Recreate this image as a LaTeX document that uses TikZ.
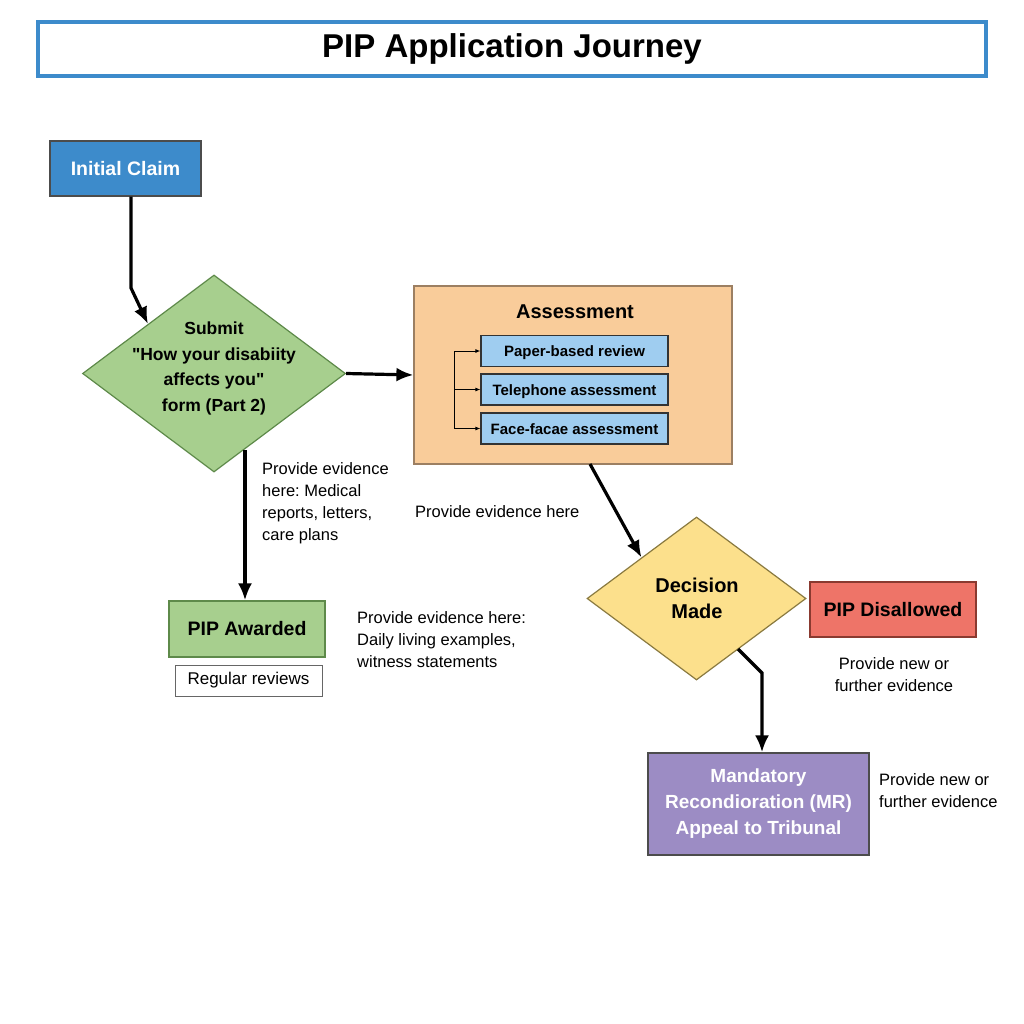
\documentclass[tikz,border=0pt]{standalone}
\usepackage{fontspec}
\setmainfont{Liberation Sans}
\newfontfamily\qfam{Liberation Sans}
\usetikzlibrary{shapes.geometric,arrows.meta,calc}
\definecolor{cblue}{HTML}{3D8BCB}
\definecolor{cgreen}{HTML}{A7CF8E}
\definecolor{cgreenb}{HTML}{5E8A4A}
\definecolor{corange}{HTML}{F9CC9A}
\definecolor{corangeb}{HTML}{9C7F62}
\definecolor{clblue}{HTML}{9FCDF0}
\definecolor{cyellow}{HTML}{FCE08C}
\definecolor{cyellowb}{HTML}{8A7A40}
\definecolor{cred}{HTML}{EE7468}
\definecolor{credb}{HTML}{8A3A30}
\definecolor{cpurple}{HTML}{9C8CC4}
\newcommand{\sq}{{\qfam"}}
\begin{document}
\frenchspacing
\begin{tikzpicture}[x=1pt,y=-1pt,
  box/.style={draw, rectangle, inner sep=0pt, align=center, line width=1.2pt},
  bigbold/.style={font=\bfseries\fontsize{19.5}{26}\selectfont},
  subbox/.style={box, fill=clblue, draw=black!80, minimum width=187, minimum height=31,
     text height=11, text depth=0, font=\bfseries\fontsize{15}{18}\selectfont},
  note/.style={align=left, inner sep=0pt, font=\fontsize{16.5}{22}\selectfont},
  flow/.style={line width=3.2pt, -{Latex[length=17pt,width=14pt]}},
  thin/.style={line width=0.9pt, -{Latex[length=5pt,width=4pt]}}
]
\useasboundingbox (0,0) rectangle (1024,1024);
\fill[white] (0,0) rectangle (1024,1024);

% title
\node[draw=cblue, line width=4pt, minimum width=948, minimum height=54, inner sep=0pt,
  font=\bfseries\fontsize{33}{38}\selectfont] (title) at (512,49) {PIP Application Journey};

% initial claim
\node[box, fill=cblue, draw=black!70, minimum width=151, minimum height=55, bigbold, text=white]
  (init) at (125.5,168.5) {Initial Claim};

% submit diamond
\node[diamond, draw=cgreenb, fill=cgreen, line width=1.2pt, minimum width=263, minimum height=197, inner sep=0pt]
  (submit) at (214,373.5) {};
\node[align=center, inner sep=0pt, font=\bfseries\fontsize{17.5}{25.7}\selectfont]
  (submittext) at (214,368.5) {Submit\\\sq How your disabiity\\affects you\sq\\form (Part 2)};

% assessment
\node[box, fill=corange, draw=corangeb, minimum width=318, minimum height=178] (assess) at (573,375) {};
\node[inner sep=0pt, font=\bfseries\fontsize{20}{24}\selectfont] (assesstitle) at (575,312) {Assessment};
\node[subbox] (sub1) at (574.5,351) {Paper-based review};
\node[subbox] (sub2) at (574.5,389.5) {Telephone assessment};
\node[subbox] (sub3) at (574.5,428.5) {Face-facae assessment};
\coordinate (br1) at (454,351);
\coordinate (br3) at (454,428.5);
\draw[line width=0.9pt] (br1) -- (br3);
\draw[thin] (br1) -- (sub1.west);
\draw[thin] (br1 |- sub2.west) -- (sub2.west);
\draw[thin] (br3) -- (sub3.west);

% decision
\node[diamond, draw=cyellowb, fill=cyellow, line width=1.2pt, minimum width=219, minimum height=163, inner sep=0pt]
  (dec) at (696.5,598.5) {};
\node[align=center, inner sep=0pt, font=\bfseries\fontsize{20}{26}\selectfont] (dectext) at (697,598) {Decision\\Made};

% disallowed
\node[box, fill=cred, draw=credb, minimum width=166, minimum height=55, bigbold] (disallow) at (893,609.5) {PIP Disallowed};
\node[align=center, inner sep=0pt, font=\fontsize{16.5}{22}\selectfont] (n4) at (894,675) {Provide new or\\further evidence};

% MR
\node[box, fill=cpurple, draw=black!70, minimum width=221, minimum height=102, text=white,
  font=\bfseries\fontsize{19}{26}\selectfont] (mr) at (758.5,804) {Mandatory\\Recondioration (MR)\\Appeal to Tribunal};
\node[note, anchor=west] (n5) at (879,791) {Provide new or\\further evidence};

% awarded
\node[box, fill=cgreen, draw=cgreenb, minimum width=156, minimum height=56, bigbold] (award) at (247,629) {PIP Awarded};
\node[box, fill=white, draw=black!60, line width=0.9pt, minimum width=147, minimum height=31,
  font=\fontsize{17}{20}\selectfont] (reviews) at (248.5,680.5) {Regular reviews};

% notes
\node[note, anchor=west] (n1) at (262,503) {Provide evidence\\here: Medical\\reports, letters,\\care plans};
\node[note, anchor=west] (n2) at (415,512) {Provide evidence here};
\node[note, anchor=west] (n3) at (357,640) {Provide evidence here:\\Daily living examples,\\witness statements};

% connectors
\coordinate (c1) at (131,288);
\draw[flow] (init.south -| c1) -- (c1) -- (submit.north west);
\draw[flow] (submit.east) -- (assess.west);
\coordinate (c2) at (245,450);
\draw[flow] (c2) -- (c2 |- award.north);
\coordinate (c3) at (590,464);
\draw[flow] (c3) -- (dec.north west);
\coordinate (c4) at (738,649);
\coordinate (c5) at (762,673);
\draw[flow] (c4) -- (c5) -- (c5 |- mr.north);
\end{tikzpicture}
\end{document}
